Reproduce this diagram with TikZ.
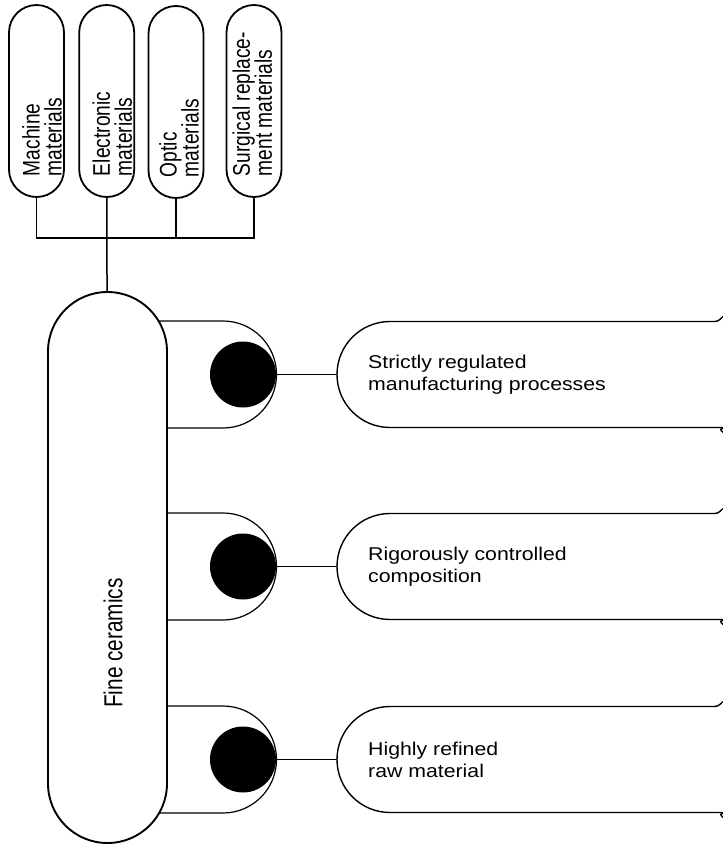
\documentclass[tikz,border=0pt]{standalone}
\usepackage{fontspec}
\setmainfont{Liberation Sans}
\newfontfamily\tagfont[FakeStretch=0.8]{Liberation Sans}
\newfontfamily\boxfont[FakeStretch=1.15]{Liberation Sans}
% rotated two-line text for the upright boxes, #1 moves it sideways
\newcommand\vtext[3]{\hspace*{#1}\rotatebox{90}{\vbox{\baselineskip=22pt\lineskiplimit=-50pt
  \hbox to 150pt{#2\hfil}\hbox to 150pt{#3\hfil}}}\hspace*{-#1}}

\begin{document}
\begin{tikzpicture}[x=1pt,y=-1pt,%Fine ceramics
  tagbox/.style={draw,line width=1.8pt,rounded corners=27.5pt,minimum width=55pt,
    minimum height=192pt,inner sep=0pt,font=\tagfont\fontsize{24}{22}\selectfont},
  hub/.style={draw,line width=1.9pt,fill=white,rounded corners=59.5pt,
    minimum width=119pt,minimum height=551pt,inner sep=0pt},
  blob/.style={circle,fill=black,minimum size=66pt,inner sep=0pt},
  cup/.style={line width=1.2pt,rounded corners=53.5pt},
  factbox/.style={line width=1.4pt},
  facttext/.style={anchor=west,inner sep=0pt,align=left,
    font=\boxfont\fontsize{18.5}{22}\selectfont},
  wire/.style={line width=1.5pt},
  thin wire/.style={line width=0.9pt}]
\useasboundingbox (0,0) rectangle (723,847);

\foreach \y/\a/\b [count=\i] in {374.5/Strictly regulated/manufacturing processes,
    566.5/Rigorously controlled/composition,759.5/Highly refined/raw material}{
  \draw[cup] (107,\y-53.5) -- (276.5,\y-53.5) -- (276.5,\y+53.5) -- (107,\y+53.5);
  \node[blob] (blob\i) at (243,\y) {};
  \draw[factbox] (723,\y-58) .. controls (718,\y-53) .. (711,\y-53)
    [rounded corners=53pt] -- (337,\y-53) -- (337,\y+53) -- (711,\y+53)
    [sharp corners] .. controls (718,\y+53) .. (723,\y+58);
  \coordinate (tab\i) at (337,\y);
  \node[facttext] (fact\i) at (368,\y) {\a\\\b};
  \draw[thin wire] (blob\i) -- (tab\i);
}

\node[hub] (fc) at (107.5,567.5) {};
\node[rotate=90,inner sep=0pt,font=\tagfont\fontsize{26}{22}\selectfont] (fclabel) at (113,643) {Fine ceramics};

\node[tagbox] (mach) at (36.5,101) {\vtext{5.5pt}{Machine}{materials}};
\node[tagbox] (elec) at (106.7,101) {\vtext{5.5pt}{Electronic}{materials}};
\node[tagbox] (opt) at (176,102) {\vtext{3pt}{Optic}{materials}};
\node[tagbox] (surg) at (254,101) {\vtext{-1.6pt}{Surgical replace-}{ment materials}};

\coordinate (bus) at (0,238);
\draw[wire] (mach) -- (mach |- bus) -- (surg |- bus) -- (surg);
\draw[wire] (opt) -- (opt |- bus);
\draw[wire] (elec) -- (fc);
\end{tikzpicture}
\end{document}
